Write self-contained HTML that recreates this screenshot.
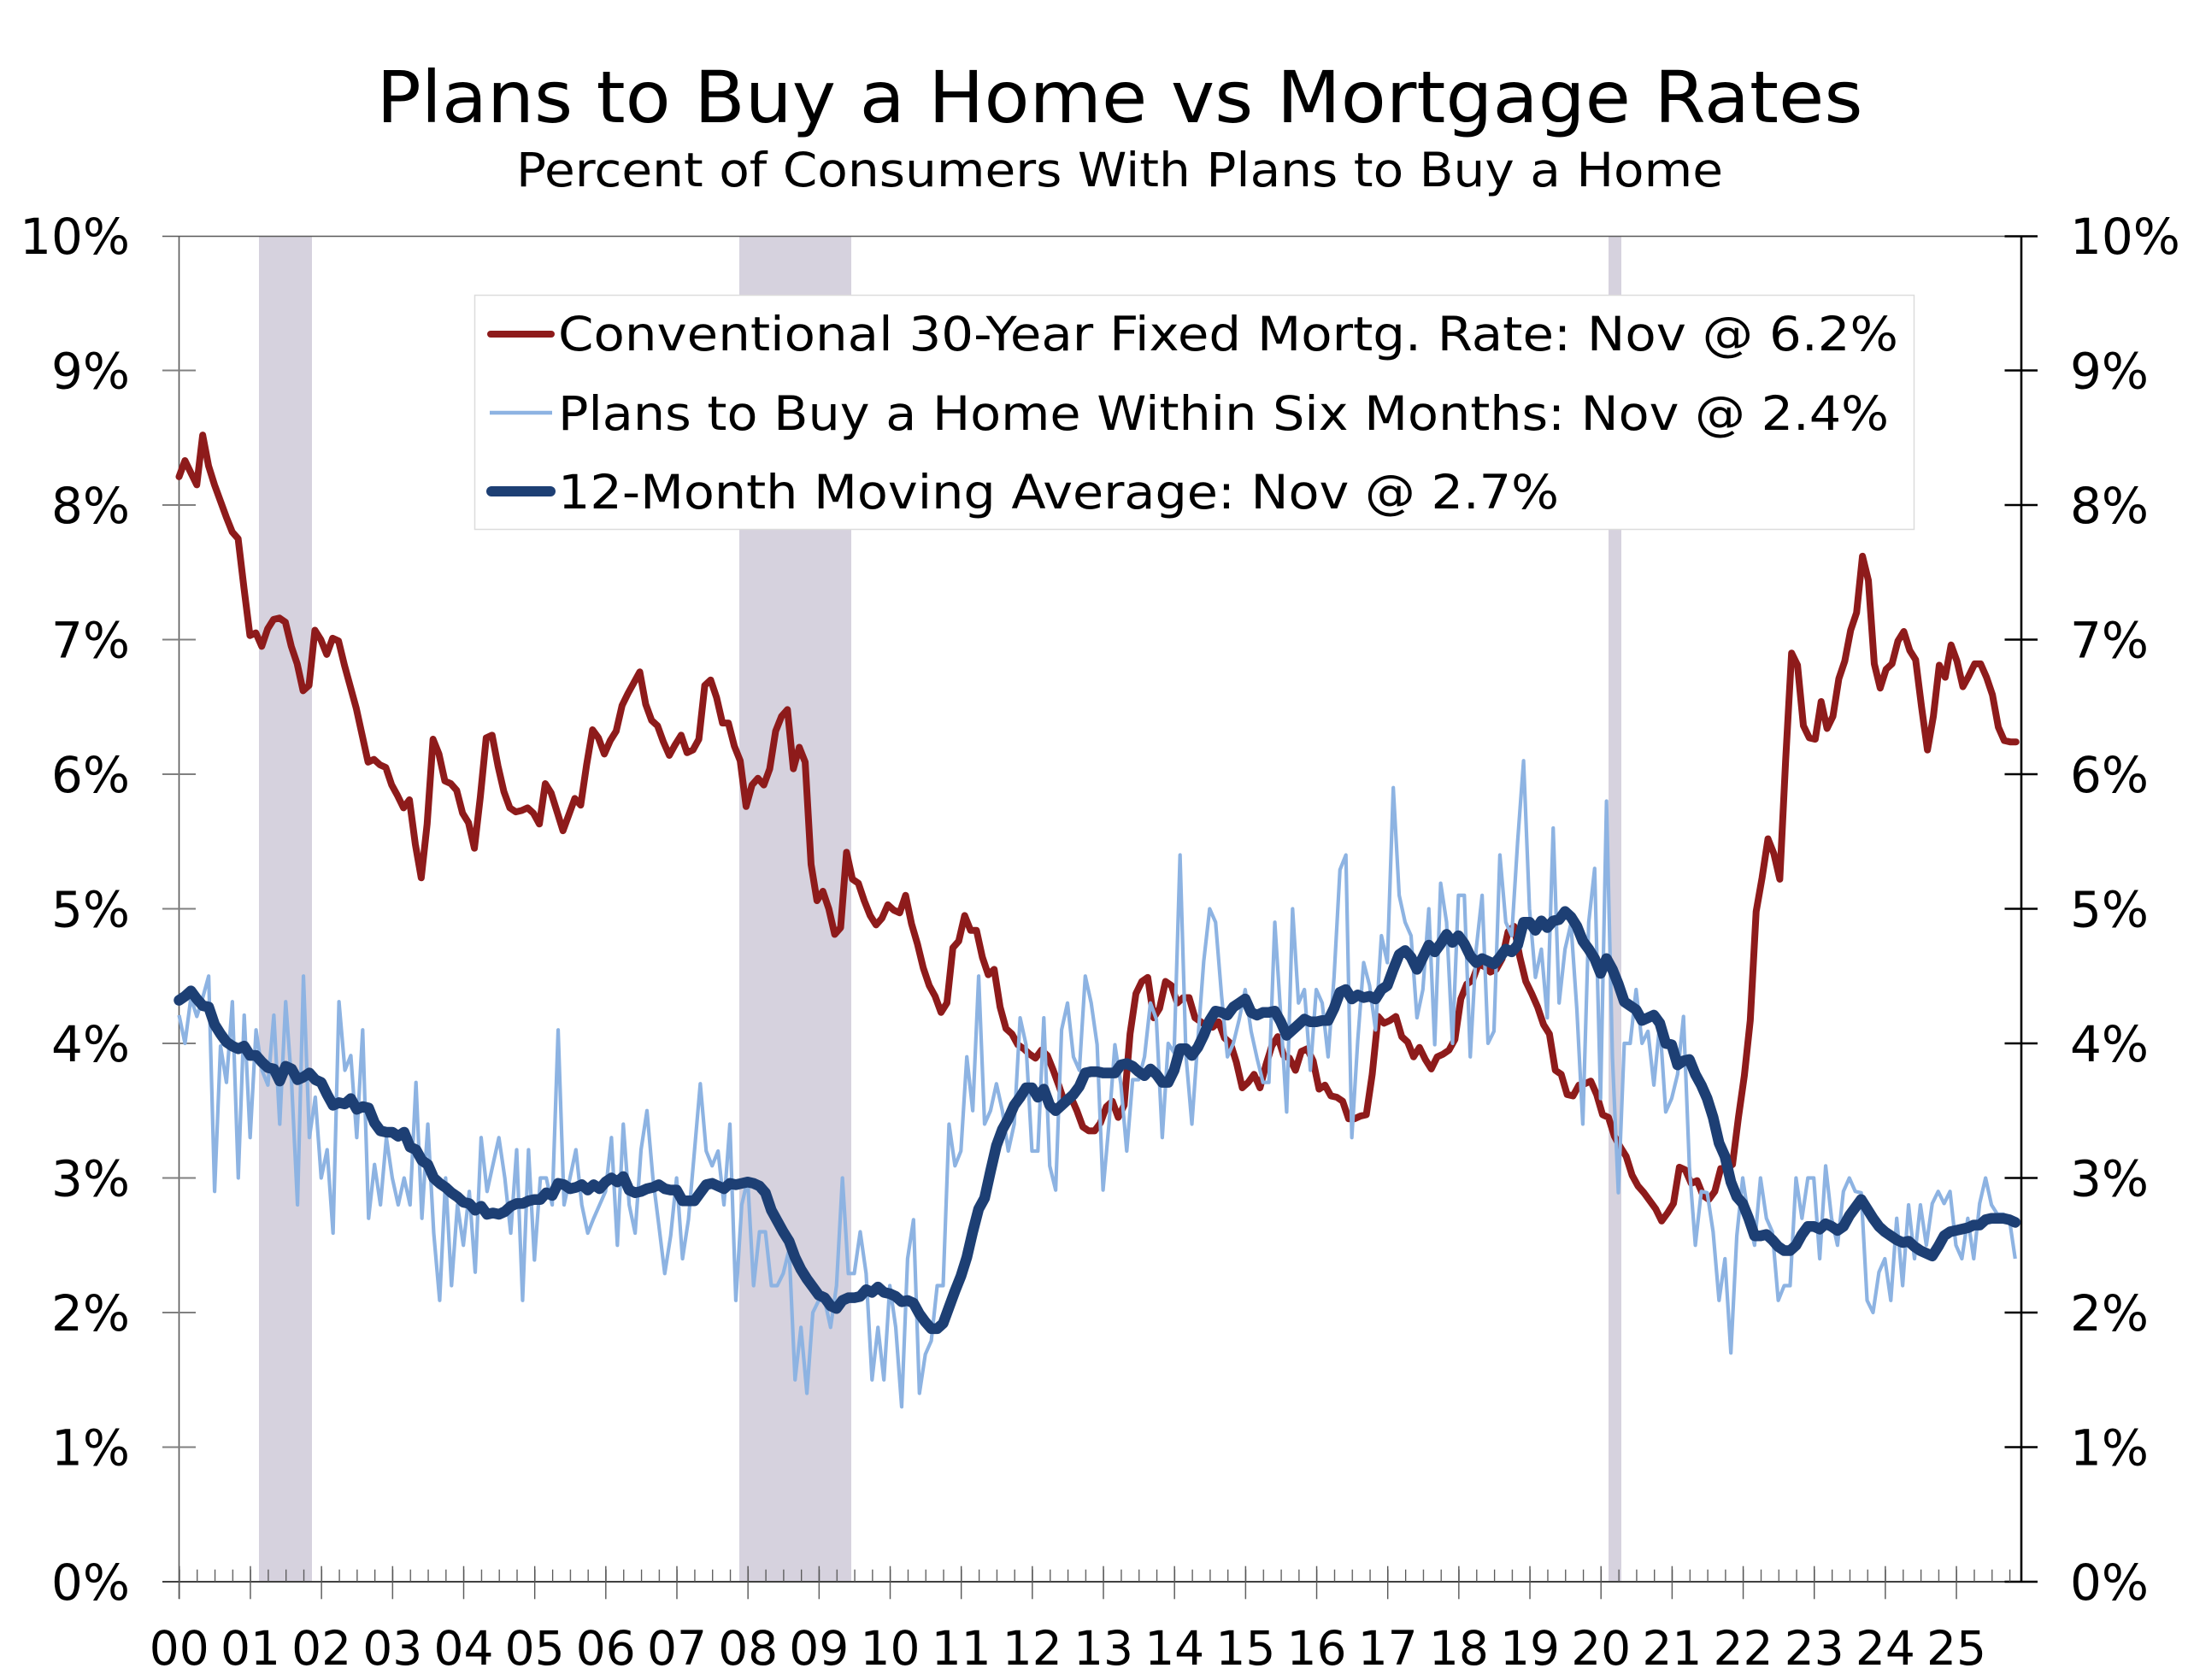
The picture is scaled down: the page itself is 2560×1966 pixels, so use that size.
<!DOCTYPE html>
<html><head><meta charset="utf-8"><style>
html,body{margin:0;padding:0;background:#fff;}
svg{display:block;}
text{font-family:"DejaVu Sans","Liberation Sans",sans-serif;fill:#000;}
</style></head><body>
<svg width="2560" height="1966" viewBox="0 0 2560 1966" xmlns="http://www.w3.org/2000/svg">
<defs>
<pattern id="minor" x="209.3" y="0" width="20.7925" height="1966" patternUnits="userSpaceOnUse"><rect x="0" y="0" width="1.3" height="1966" fill="#555"/></pattern>
<pattern id="major" x="209.1" y="0" width="83.17" height="1966" patternUnits="userSpaceOnUse"><rect x="0" y="0" width="1.4" height="1966" fill="#555"/></pattern>
</defs>
<rect width="2560" height="1966" fill="#fff"/>
<!-- recession bars -->
<rect x="303" y="277" width="62" height="1574" fill="#d6d2de"/>
<rect x="865" y="277" width="131" height="1574" fill="#d6d2de"/>
<rect x="1882" y="277" width="15" height="1574" fill="#d6d2de"/>
<!-- titles -->
<text x="1310" y="143" font-size="84" text-anchor="middle" textLength="1739" lengthAdjust="spacingAndGlyphs">Plans to Buy a Home vs Mortgage Rates</text>
<text x="1310" y="218" font-size="55" text-anchor="middle" textLength="1412" lengthAdjust="spacingAndGlyphs">Percent of Consumers With Plans to Buy a Home</text>
<!-- frame lines -->
<line x1="190" y1="276.5" x2="2384" y2="276.5" stroke="#595959" stroke-width="1.6"/>
<line x1="209.5" y1="276" x2="209.5" y2="1871" stroke="#595959" stroke-width="1.6"/>
<line x1="190" y1="1851" x2="2384" y2="1851" stroke="#404040" stroke-width="2"/>
<line x1="2365" y1="276" x2="2365" y2="1852" stroke="#000" stroke-width="2.6"/>
<!-- left ticks -->
<path d="M190 433.5H229M190 591H229M190 748.5H229M190 906H229M190 1063.5H229M190 1221H229M190 1378.5H229M190 1536H229M190 1693.5H229" stroke="#808080" stroke-width="2"/>
<!-- right ticks -->
<path d="M2345.5 276.5H2384M2345.5 433.5H2384M2345.5 591H2384M2345.5 748.5H2384M2345.5 906H2384M2345.5 1063.5H2384M2345.5 1221H2384M2345.5 1378.5H2384M2345.5 1536H2384M2345.5 1693.5H2384M2345.5 1851H2384" stroke="#000" stroke-width="2.6"/>
<!-- x ticks -->
<rect x="209" y="1836.7" width="2146" height="14.3" fill="url(#minor)"/>
<rect x="209" y="1832.7" width="2100" height="38.6" fill="url(#major)"/>
<!-- y labels left -->
<g font-size="58" text-anchor="end">
<text x="152" y="297">10%</text>
<text x="152" y="454.5">9%</text>
<text x="152" y="612">8%</text>
<text x="152" y="769.5">7%</text>
<text x="152" y="927">6%</text>
<text x="152" y="1084.5">5%</text>
<text x="152" y="1242">4%</text>
<text x="152" y="1399.5">3%</text>
<text x="152" y="1557">2%</text>
<text x="152" y="1714.5">1%</text>
<text x="152" y="1872">0%</text>
</g>
<g font-size="58" text-anchor="start">
<text x="2422" y="297">10%</text>
<text x="2422" y="454.5">9%</text>
<text x="2422" y="612">8%</text>
<text x="2422" y="769.5">7%</text>
<text x="2422" y="927">6%</text>
<text x="2422" y="1084.5">5%</text>
<text x="2422" y="1242">4%</text>
<text x="2422" y="1399.5">3%</text>
<text x="2422" y="1557">2%</text>
<text x="2422" y="1714.5">1%</text>
<text x="2422" y="1872">0%</text>
</g>
<!-- x labels -->
<g font-size="55" text-anchor="middle">
<text x="209.8" y="1948">00</text><text x="293" y="1948">01</text><text x="376.1" y="1948">02</text><text x="459.3" y="1948">03</text><text x="542.5" y="1948">04</text><text x="625.6" y="1948">05</text><text x="708.8" y="1948">06</text><text x="792" y="1948">07</text><text x="875.2" y="1948">08</text><text x="958.3" y="1948">09</text><text x="1041.5" y="1948">10</text><text x="1124.7" y="1948">11</text><text x="1207.8" y="1948">12</text><text x="1291" y="1948">13</text><text x="1374.2" y="1948">14</text><text x="1457.4" y="1948">15</text><text x="1540.5" y="1948">16</text><text x="1623.7" y="1948">17</text><text x="1706.9" y="1948">18</text><text x="1790" y="1948">19</text><text x="1873.2" y="1948">20</text><text x="1956.4" y="1948">21</text><text x="2039.5" y="1948">22</text><text x="2122.7" y="1948">23</text><text x="2205.9" y="1948">24</text><text x="2289" y="1948">25</text>
</g>
<!-- mortgage rate -->
<g transform="translate(209.5 1851) scale(6.911 -157.5)">
<polyline fill="none" stroke="#8e1b1b" stroke-width="8" stroke-linejoin="round" stroke-linecap="round" vector-effect="non-scaling-stroke" points="0,8.21 1,8.33 2,8.24 3,8.15 4,8.52 5,8.29 6,8.15 7,8.03 8,7.91 9,7.80 10,7.75 11,7.38 12,7.03 13,7.05 14,6.95 15,7.08 16,7.15 17,7.16 18,7.13 19,6.95 20,6.82 21,6.62 22,6.66 23,7.07 24,7.00 25,6.89 26,7.01 27,6.99 28,6.81 29,6.65 30,6.49 31,6.29 32,6.09 33,6.11 34,6.07 35,6.05 36,5.92 37,5.84 38,5.75 39,5.81 40,5.48 41,5.23 42,5.63 43,6.26 44,6.15 45,5.95 46,5.93 47,5.88 48,5.71 49,5.64 50,5.45 51,5.83 52,6.27 53,6.29 54,6.06 55,5.87 56,5.75 57,5.72 58,5.73 59,5.75 60,5.71 61,5.63 62,5.93 63,5.86 64,5.72 65,5.58 66,5.70 67,5.82 68,5.77 69,6.07 70,6.33 71,6.27 72,6.15 73,6.25 74,6.32 75,6.51 76,6.60 77,6.68 78,6.76 79,6.52 80,6.40 81,6.36 82,6.24 83,6.14 84,6.22 85,6.29 86,6.16 87,6.18 88,6.26 89,6.66 90,6.70 91,6.57 92,6.38 93,6.38 94,6.21 95,6.10 96,5.76 97,5.92 98,5.97 99,5.92 100,6.04 101,6.32 102,6.43 103,6.48 104,6.04 105,6.20 106,6.09 107,5.33 108,5.06 109,5.13 110,5.00 111,4.81 112,4.86 113,5.42 114,5.22 115,5.19 116,5.06 117,4.95 118,4.88 119,4.93 120,5.03 121,4.99 122,4.97 123,5.10 124,4.89 125,4.74 126,4.56 127,4.43 128,4.35 129,4.23 130,4.30 131,4.71 132,4.76 133,4.95 134,4.84 135,4.84 136,4.64 137,4.51 138,4.55 139,4.27 140,4.11 141,4.07 142,3.99 143,3.96 144,3.92 145,3.89 146,3.95 147,3.91 148,3.80 149,3.68 150,3.55 151,3.60 152,3.50 153,3.38 154,3.35 155,3.35 156,3.41 157,3.53 158,3.57 159,3.45 160,3.54 161,4.07 162,4.37 163,4.46 164,4.49 165,4.19 166,4.26 167,4.46 168,4.43 169,4.30 170,4.34 171,4.34 172,4.19 173,4.16 174,4.13 175,4.12 176,4.16 177,4.04 178,4.00 179,3.86 180,3.67 181,3.71 182,3.77 183,3.67 184,3.84 185,3.98 186,4.05 187,3.91 188,3.89 189,3.80 190,3.94 191,3.96 192,3.87 193,3.66 194,3.69 195,3.61 196,3.60 197,3.57 198,3.44 199,3.44 200,3.46 201,3.47 202,3.77 203,4.20 204,4.15 205,4.17 206,4.20 207,4.05 208,4.01 209,3.90 210,3.97 211,3.88 212,3.81 213,3.90 214,3.92 215,3.95 216,4.03 217,4.33 218,4.44 219,4.47 220,4.59 221,4.57 222,4.53 223,4.55 224,4.63 225,4.83 226,4.87 227,4.64 228,4.46 229,4.37 230,4.27 231,4.14 232,4.07 233,3.80 234,3.77 235,3.62 236,3.61 237,3.69 238,3.70 239,3.72 240,3.62 241,3.47 242,3.45 243,3.31 244,3.23 245,3.16 246,3.02 247,2.94 248,2.89 249,2.83 250,2.77 251,2.68 252,2.74 253,2.81 254,3.08 255,3.06 256,2.96 257,2.98 258,2.87 259,2.84 260,2.90 261,3.07 262,3.07 263,3.10 264,3.45 265,3.76 266,4.17 267,4.98 268,5.23 269,5.52 270,5.41 271,5.22 272,6.11 273,6.90 274,6.81 275,6.36 276,6.27 277,6.26 278,6.54 279,6.34 280,6.43 281,6.71 282,6.84 283,7.07 284,7.20 285,7.62 286,7.44 287,6.82 288,6.64 289,6.78 290,6.82 291,6.99 292,7.06 293,6.92 294,6.85 295,6.50 296,6.18 297,6.43 298,6.81 299,6.72 300,6.96 301,6.84 302,6.65 303,6.73 304,6.82 305,6.82 306,6.72 307,6.59 308,6.35 309,6.25 310,6.24 311,6.24"/>
</g>
<!-- plans to buy -->
<g transform="translate(209.5 1851) scale(6.93 -157.5)">
<polyline fill="none" stroke="#8db3e2" stroke-width="4.2" stroke-linejoin="round" vector-effect="non-scaling-stroke" points="0,4.21 1,4.00 2,4.34 3,4.20 4,4.34 5,4.50 6,2.90 7,3.98 8,3.71 9,4.31 10,3.00 11,4.21 12,3.30 13,4.10 14,3.80 15,3.69 16,4.21 17,3.40 18,4.31 19,3.71 20,2.80 21,4.50 22,3.30 23,3.60 24,3.00 25,3.21 26,2.59 27,4.31 28,3.80 29,3.91 30,3.30 31,4.10 32,2.70 33,3.10 34,2.80 35,3.30 36,3.00 37,2.80 38,3.00 39,2.80 40,3.71 41,2.70 42,3.40 43,2.59 44,2.09 45,3.00 46,2.20 47,2.80 48,2.50 49,2.90 50,2.30 51,3.30 52,2.90 53,3.10 54,3.30 55,3.00 56,2.59 57,3.21 58,2.09 59,3.21 60,2.39 61,3.00 62,3.00 63,2.80 64,4.10 65,2.80 66,3.00 67,3.21 68,2.80 69,2.59 70,2.70 71,2.80 72,2.90 73,3.30 74,2.50 75,3.40 76,2.80 77,2.59 78,3.21 79,3.50 80,3.00 81,2.65 82,2.29 83,2.57 84,3.00 85,2.40 86,2.69 87,3.19 88,3.70 89,3.20 90,3.09 91,3.20 92,2.80 93,3.40 94,2.09 95,2.80 96,2.99 97,2.20 98,2.60 99,2.60 100,2.20 101,2.20 102,2.29 103,2.47 104,1.50 105,1.89 106,1.40 107,2.00 108,2.09 109,2.09 110,1.89 111,2.20 112,3.00 113,2.29 114,2.29 115,2.60 116,2.29 117,1.50 118,1.89 119,1.50 120,2.20 121,1.89 122,1.30 123,2.40 124,2.69 125,1.40 126,1.69 127,1.79 128,2.20 129,2.20 130,3.40 131,3.09 132,3.20 133,3.90 134,3.50 135,4.50 136,3.40 137,3.50 138,3.70 139,3.50 140,3.20 141,3.40 142,4.19 143,3.99 144,3.20 145,3.20 146,4.19 147,3.09 148,2.91 149,4.10 150,4.30 151,3.90 152,3.80 153,4.50 154,4.30 155,3.99 156,2.91 157,3.40 158,3.99 159,3.70 160,3.20 161,3.73 162,3.73 163,3.90 164,4.30 165,4.18 166,3.30 167,4.00 168,3.93 169,5.40 170,3.91 171,3.40 172,4.02 173,4.61 174,5.00 175,4.90 176,4.36 177,3.90 178,4.00 179,4.18 180,4.40 181,4.09 182,3.89 183,3.71 184,3.71 185,4.90 186,4.21 187,3.49 188,5.00 189,4.30 190,4.40 191,3.80 192,4.40 193,4.30 194,3.90 195,4.49 196,5.29 197,5.40 198,3.30 199,4.02 200,4.60 201,4.43 202,4.10 203,4.80 204,4.60 205,5.90 206,5.10 207,4.90 208,4.80 209,4.19 210,4.40 211,5.00 212,3.99 213,5.19 214,4.90 215,4.00 216,5.10 217,5.10 218,3.90 219,4.70 220,5.10 221,4.00 222,4.09 223,5.40 224,4.90 225,4.80 226,5.50 227,6.10 228,5.00 229,4.49 230,4.70 231,4.19 232,5.60 233,4.30 234,4.70 235,4.89 236,4.25 237,3.40 238,4.90 239,5.30 240,3.59 241,5.80 242,3.90 243,2.89 244,4.00 245,4.00 246,4.40 247,4.00 248,4.09 249,3.69 250,4.15 251,3.49 252,3.59 253,3.77 254,4.20 255,3.08 256,2.50 257,2.90 258,2.89 259,2.60 260,2.09 261,2.40 262,1.70 263,2.57 264,3.00 265,2.70 266,2.50 267,3.00 268,2.70 269,2.60 270,2.09 271,2.20 272,2.20 273,3.00 274,2.70 275,3.00 276,3.00 277,2.40 278,3.09 279,2.70 280,2.50 281,2.90 282,3.00 283,2.90 284,2.89 285,2.09 286,2.00 287,2.30 288,2.40 289,2.09 290,2.70 291,2.20 292,2.80 293,2.40 294,2.80 295,2.50 296,2.81 297,2.90 298,2.81 299,2.90 300,2.50 301,2.40 302,2.70 303,2.40 304,2.81 305,3.00 306,2.80 307,2.73 308,2.73 309,2.70 310,2.40"/>
<polyline fill="none" stroke="#1d3f74" stroke-width="12.5" stroke-linejoin="round" stroke-linecap="round" vector-effect="non-scaling-stroke" points="0,4.32 1,4.35 2,4.39 3,4.33 4,4.28 5,4.27 6,4.14 7,4.07 8,4.01 9,3.98 10,3.96 11,3.98 12,3.91 13,3.91 14,3.86 15,3.82 16,3.81 17,3.72 18,3.83 19,3.81 20,3.73 21,3.75 22,3.78 23,3.73 24,3.71 25,3.62 26,3.54 27,3.56 28,3.55 29,3.59 30,3.51 31,3.53 32,3.52 33,3.41 34,3.35 35,3.34 36,3.34 37,3.31 38,3.34 39,3.23 40,3.21 41,3.13 42,3.10 43,3.00 44,2.96 45,2.93 46,2.89 47,2.86 48,2.82 49,2.81 50,2.76 51,2.79 52,2.73 53,2.74 54,2.73 55,2.75 56,2.79 57,2.81 58,2.81 59,2.83 60,2.84 61,2.84 62,2.89 63,2.87 64,2.96 65,2.95 66,2.92 67,2.93 68,2.95 69,2.91 70,2.95 71,2.92 72,2.97 73,3.00 74,2.97 75,3.01 76,2.91 77,2.89 78,2.90 79,2.92 80,2.93 81,2.95 82,2.92 83,2.91 84,2.91 85,2.83 86,2.83 87,2.83 88,2.89 89,2.95 90,2.96 91,2.94 92,2.92 93,2.96 94,2.95 95,2.96 96,2.97 97,2.96 98,2.94 99,2.89 100,2.76 101,2.68 102,2.60 103,2.53 104,2.41 105,2.32 106,2.25 107,2.19 108,2.13 109,2.11 110,2.05 111,2.03 112,2.09 113,2.11 114,2.11 115,2.12 116,2.17 117,2.15 118,2.19 119,2.15 120,2.14 121,2.12 122,2.08 123,2.09 124,2.07 125,1.99 126,1.93 127,1.88 128,1.88 129,1.92 130,2.04 131,2.16 132,2.27 133,2.41 134,2.60 135,2.77 136,2.85 137,3.05 138,3.24 139,3.36 140,3.44 141,3.54 142,3.60 143,3.67 144,3.67 145,3.60 146,3.66 147,3.54 148,3.50 149,3.54 150,3.58 151,3.62 152,3.68 153,3.78 154,3.79 155,3.79 156,3.78 157,3.78 158,3.78 159,3.84 160,3.85 161,3.83 162,3.79 163,3.76 164,3.81 165,3.77 166,3.71 167,3.71 168,3.80 169,3.96 170,3.96 171,3.91 172,3.97 173,4.06 174,4.17 175,4.24 176,4.23 177,4.21 178,4.27 179,4.30 180,4.33 181,4.23 182,4.21 183,4.23 184,4.23 185,4.24 186,4.16 187,4.06 188,4.10 189,4.14 190,4.18 191,4.16 192,4.16 193,4.17 194,4.17 195,4.26 196,4.38 197,4.40 198,4.33 199,4.36 200,4.34 201,4.35 202,4.33 203,4.40 204,4.43 205,4.55 206,4.66 207,4.69 208,4.64 209,4.55 210,4.64 211,4.73 212,4.68 213,4.74 214,4.81 215,4.75 216,4.80 217,4.74 218,4.65 219,4.60 220,4.63 221,4.61 222,4.59 223,4.64 224,4.70 225,4.68 226,4.73 227,4.90 228,4.90 229,4.84 230,4.91 231,4.86 232,4.91 233,4.92 234,4.98 235,4.94 236,4.87 237,4.76 238,4.70 239,4.63 240,4.52 241,4.63 242,4.55 243,4.44 244,4.31 245,4.28 246,4.25 247,4.17 248,4.19 249,4.21 250,4.15 251,4.00 252,3.99 253,3.84 254,3.87 255,3.88 256,3.77 257,3.69 258,3.59 259,3.45 260,3.26 261,3.16 262,2.97 263,2.86 264,2.81 265,2.70 266,2.57 267,2.57 268,2.58 269,2.54 270,2.49 271,2.46 272,2.46 273,2.50 274,2.58 275,2.64 276,2.64 277,2.62 278,2.66 279,2.64 280,2.61 281,2.64 282,2.72 283,2.78 284,2.84 285,2.77 286,2.70 287,2.64 288,2.60 289,2.57 290,2.54 291,2.52 292,2.53 293,2.49 294,2.46 295,2.44 296,2.42 297,2.49 298,2.57 299,2.60 300,2.61 301,2.62 302,2.63 303,2.65 304,2.65 305,2.69 306,2.70 307,2.70 308,2.70 309,2.69 310,2.67"/>
</g>
<!-- legend -->
<rect x="555.5" y="345.5" width="1684" height="274" fill="#fff" stroke="#dcdcdc" stroke-width="1.5"/>
<line x1="574" y1="391" x2="645" y2="391" stroke="#8e1b1b" stroke-width="8" stroke-linecap="round"/>
<line x1="573" y1="483" x2="646" y2="483" stroke="#8db3e2" stroke-width="4.5"/>
<line x1="575" y1="575" x2="644" y2="575" stroke="#1d3f74" stroke-width="12" stroke-linecap="round"/>
<text x="653" y="410" font-size="55" textLength="1568" lengthAdjust="spacingAndGlyphs">Conventional 30-Year Fixed Mortg. Rate: Nov @ 6.2%</text>
<text x="653" y="503" font-size="55" textLength="1557" lengthAdjust="spacingAndGlyphs">Plans to Buy a Home Within Six Months: Nov @ 2.4%</text>
<text x="653" y="595" font-size="55" textLength="1171" lengthAdjust="spacingAndGlyphs">12-Month Moving Average: Nov @ 2.7%</text>
</svg>
</body></html>
